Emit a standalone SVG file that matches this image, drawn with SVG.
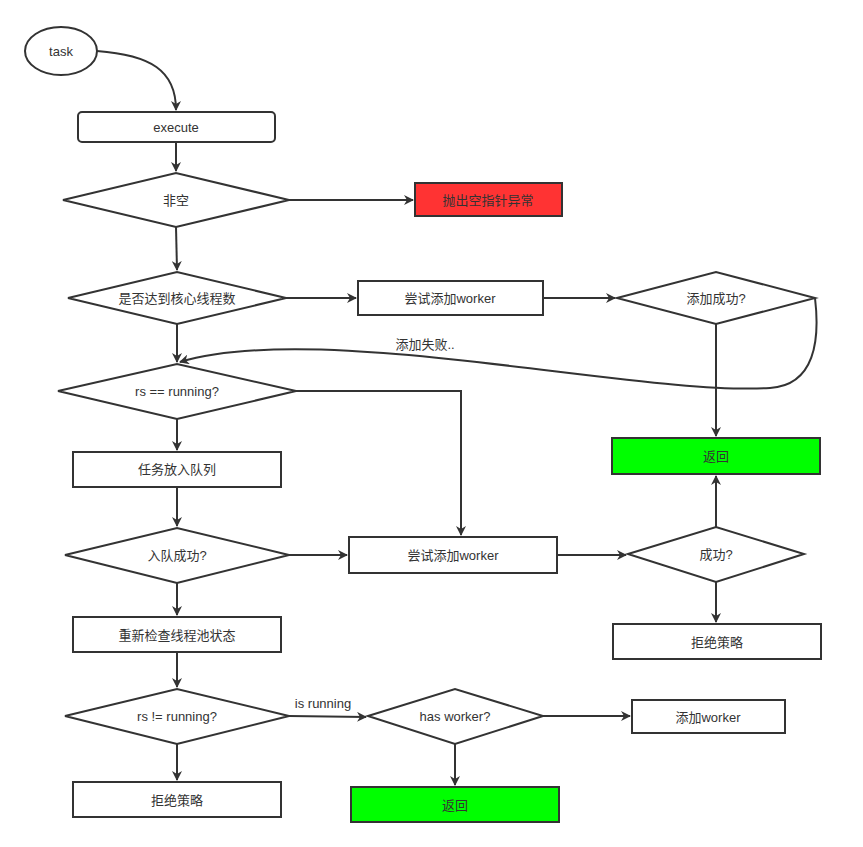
<svg xmlns="http://www.w3.org/2000/svg" width="863" height="847" viewBox="0 0 863 847">
<style>
.s{fill:#fff;stroke:#333;stroke-width:2}
.g{fill:#00ff00;stroke:#333;stroke-width:2}
.r{fill:#ff3333;stroke:#333;stroke-width:2}
.c{fill:none;stroke:#333;stroke-width:2;marker-end:url(#a)}
text{font-family:"Liberation Sans","Noto Sans CJK SC",sans-serif;font-size:13px;fill:#333;text-anchor:middle;dominant-baseline:central}
</style>
<defs><marker id="a" viewBox="0 0 10 10" refX="9" refY="5" markerWidth="5" markerHeight="5" orient="auto" markerUnits="strokeWidth"><path d="M0,0L10,5L0,10L3,5z" fill="#333"/></marker></defs>
<rect width="863" height="847" fill="#fff"/>
<g id="connectors">
<path class="c" d="M97,51C150,55 176,70 176,110"/>
<path class="c" d="M176,142V171"/>
<path class="c" d="M289,200H413"/>
<path class="c" d="M176,227L177,270"/>
<path class="c" d="M286,298H356"/>
<path class="c" d="M543,298H615"/>
<path class="c" d="M716,324V436"/>
<path class="c" d="M815,298C820,340 815,385 770,388C640,396 320,320 180,362"/>
<path class="c" d="M177,324V362"/>
<path class="c" d="M296,391H461V535"/>
<path class="c" d="M177,419V450"/>
<path class="c" d="M177,487V526"/>
<path class="c" d="M289,555H347"/>
<path class="c" d="M557,555H626"/>
<path class="c" d="M716,527V476"/>
<path class="c" d="M716,582V622"/>
<path class="c" d="M177,583V615"/>
<path class="c" d="M177,652V687"/>
<path class="c" d="M289,716L366,717"/>
<path class="c" d="M543,716H630"/>
<path class="c" d="M455,744V785"/>
<path class="c" d="M177,744V780"/>
<text x="425" y="344">添加失败..</text>
<text x="323" y="703">is running</text>
</g>
<g id="task"><ellipse class="s" cx="61" cy="51" rx="36" ry="24"/><text x="61" y="51">task</text></g>
<g id="execute"><rect class="s" x="78" y="112" width="197" height="30" rx="4"/><text x="176" y="127">execute</text></g>
<g id="notnull"><path class="s" d="M63,200L176,173L289,200L176,227z"/><text x="176" y="200">非空</text></g>
<g id="npe"><rect class="r" x="415" y="183" width="147" height="33"/><text x="488" y="200">抛出空指针异常</text></g>
<g id="core"><path class="s" d="M68,298L177,272L286,298L177,324z"/><text x="177" y="298">是否达到核心线程数</text></g>
<g id="tryadd1"><rect class="s" x="358" y="281" width="185" height="34"/><text x="450" y="298">尝试添加worker</text></g>
<g id="addok"><path class="s" d="M617,298L716,272L815,298L716,324z"/><text x="716" y="298">添加成功?</text></g>
<g id="ret1"><rect class="g" x="612" y="438" width="208" height="36"/><text x="716" y="456">返回</text></g>
<g id="running"><path class="s" d="M58,391L177,364L296,391L177,419z"/><text x="177" y="391">rs == running?</text></g>
<g id="queue"><rect class="s" x="73" y="452" width="208" height="35"/><text x="177" y="469">任务放入队列</text></g>
<g id="queueok"><path class="s" d="M65,555L177,528L289,555L177,583z"/><text x="177" y="555">入队成功?</text></g>
<g id="tryadd2"><rect class="s" x="349" y="537" width="208" height="36"/><text x="453" y="555">尝试添加worker</text></g>
<g id="ok"><path class="s" d="M628,554L716,527L804,554L716,582z"/><text x="716" y="554">成功?</text></g>
<g id="reject1"><rect class="s" x="613" y="624" width="208" height="35"/><text x="717" y="642">拒绝策略</text></g>
<g id="recheck"><rect class="s" x="73" y="617" width="208" height="35"/><text x="177" y="635">重新检查线程池状态</text></g>
<g id="notrunning"><path class="s" d="M65,716L177,689L289,716L177,744z"/><text x="177" y="716">rs != running?</text></g>
<g id="hasworker"><path class="s" d="M368,716L455,689L543,716L455,744z"/><text x="455" y="716">has worker?</text></g>
<g id="addworker"><rect class="s" x="632" y="700" width="153" height="33"/><text x="708" y="717">添加worker</text></g>
<g id="ret2"><rect class="g" x="351" y="787" width="208" height="35"/><text x="455" y="805">返回</text></g>
<g id="reject2"><rect class="s" x="73" y="782" width="208" height="35"/><text x="177" y="800">拒绝策略</text></g>
</svg>
